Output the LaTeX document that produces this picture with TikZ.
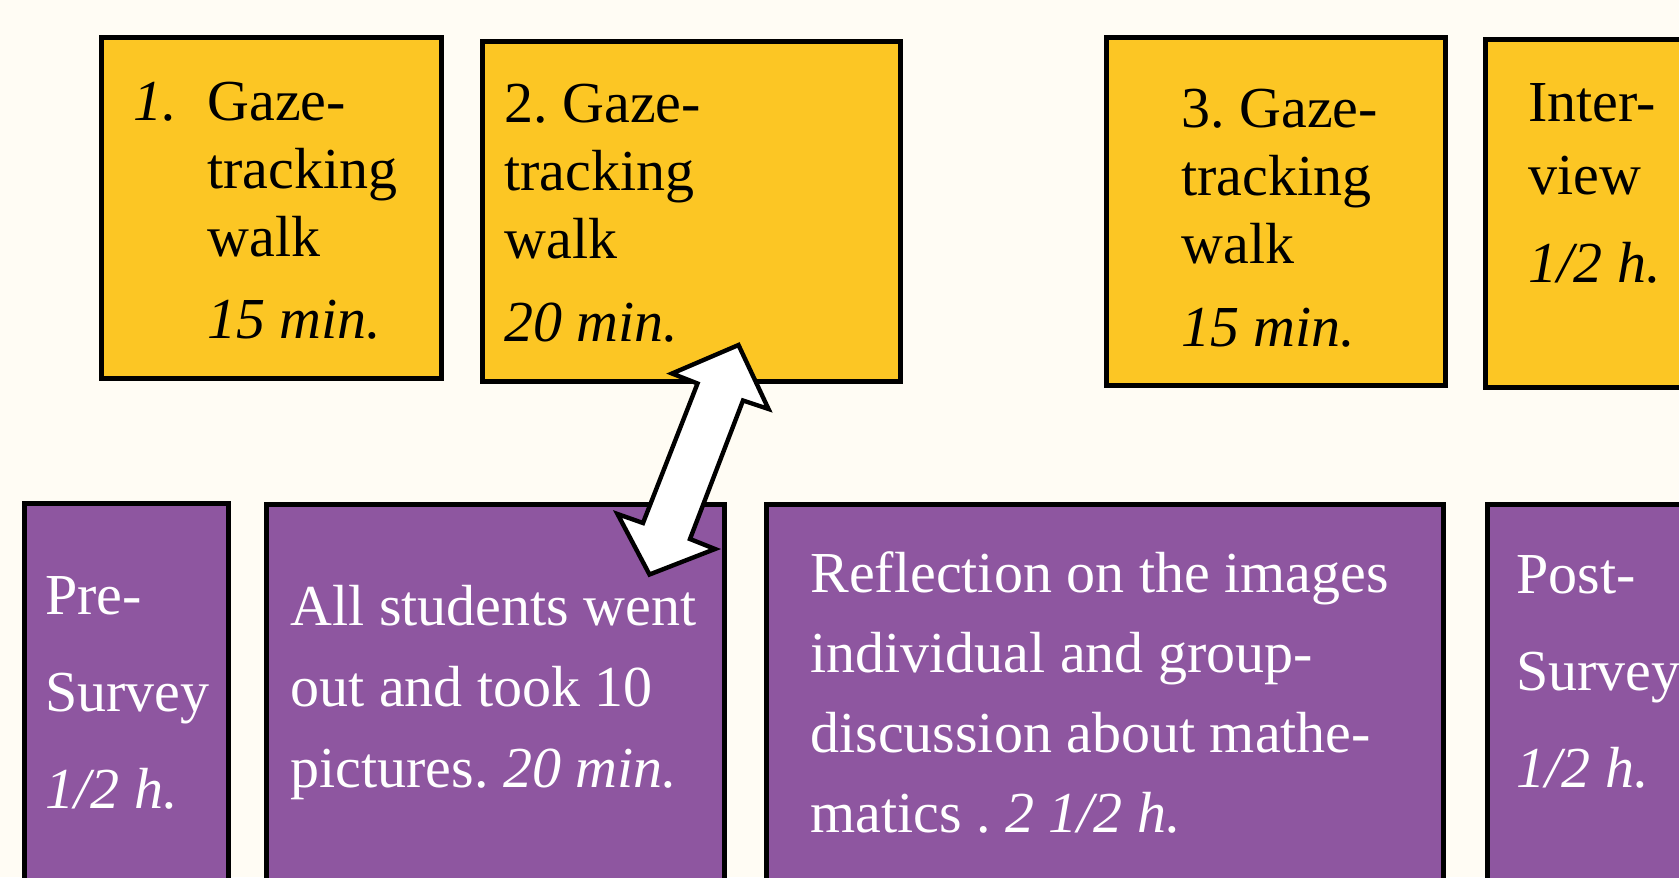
\documentclass[tikz,border=0pt]{standalone}
\usepackage{fontspec}
\setmainfont{Liberation Serif}
\frenchspacing
\usetikzlibrary{fit,positioning}
\definecolor{walkyellow}{RGB}{252,198,36}
\definecolor{classpurple}{RGB}{142,86,160}
\definecolor{paper}{RGB}{255,252,244}
\tikzset{
  yellowbox/.style={draw=black, line width=2.5pt, fill=walkyellow, inner sep=0pt},
  purplebox/.style={draw=black, line width=2.5pt, fill=classpurple, inner sep=0pt},
  boxtext/.style={anchor=base west, inner sep=0pt, font=\fontsize{29}{#1}\selectfont},
  whitetext/.style={boxtext=#1, text=white}
}
\begin{document}
\begin{tikzpicture}[x=0.5pt,y=-0.5pt]
\fill[paper] (0,0) rectangle (1679,877);
\useasboundingbox (0,0) rectangle (1679,877);
\clip (0,0) rectangle (1679,877);
% corners of the walk boxes (top row)
\coordinate (B1a) at (101,37.5);  \coordinate (B1b) at (441,378.5);
\coordinate (B2a) at (482,42);    \coordinate (B2b) at (900,381.5);
\coordinate (B3a) at (1106,38);   \coordinate (B3b) at (1445,385);
\coordinate (B4a) at (1485,40);   \coordinate (B4b) at (1720,387);
% corners of the class boxes (bottom row)
\coordinate (P1a) at (24,503.5);  \coordinate (P1b) at (228,920);
\coordinate (P2a) at (266,504);   \coordinate (P2b) at (724.5,920);
\coordinate (P3a) at (766,504);   \coordinate (P3b) at (1443,920);
\coordinate (P4a) at (1487,504);  \coordinate (P4b) at (1720,920);
\node[yellowbox, fit=(B1a)(B1b)] (B1) {};
\node[yellowbox, fit=(B2a)(B2b)] (B2) {};
\node[yellowbox, fit=(B3a)(B3b)] (B3) {};
\node[yellowbox, fit=(B4a)(B4b)] (B4) {};
\node[purplebox, fit=(P1a)(P1b)] (P1) {};
\node[purplebox, fit=(P2a)(P2b)] (P2) {};
\node[purplebox, fit=(P3a)(P3b)] (P3) {};
\node[purplebox, fit=(P4a)(P4b)] (P4) {};
% texts
\node[boxtext=34pt] (n1) at (133,121) {\textit{1.}};
\node[boxtext=34pt] (t1) at (207,121) {\parbox[t]{300pt}{Gaze-\\tracking\\walk\\[6.5pt]\textit{15 min.}}};
\node[boxtext=34pt] (t2) at (504,123) {\parbox[t]{300pt}{2. Gaze-\\tracking\\walk\\[7.5pt]\textit{20 min.}}};
\node[boxtext=34pt] (t3) at (1181,128) {\parbox[t]{300pt}{3. Gaze-\\tracking\\walk\\[7.5pt]\textit{15 min.}}};
\node[boxtext=34pt] (t4) at (1528,122) {\parbox[t]{300pt}{Inter-\\[2.5pt]view\\[10pt]\textit{1/2 h.}}};
\node[whitetext=48.5pt] (s1) at (45,614) {\parbox[t]{300pt}{Pre-\\Survey\\\textit{1/2 h.}}};
\node[whitetext=40.5pt] (s2) at (290,625) {\parbox[t]{300pt}{All students went\\out and took 10\\pictures. \textit{20 min.}}};
\node[whitetext=40pt] (s3) at (810,592) {\parbox[t]{400pt}{Reflection on the images\\individual and group-\\discussion about mathe-\\matics . \textit{2 1/2 h.}}};
\node[whitetext=48.5pt] (s4) at (1516,593) {\parbox[t]{300pt}{Post-\\Survey\\\textit{1/2 h.}}};
% double arrow between walk 2 and the photo task
\coordinate (AT) at (738.5,345);
\coordinate (ATR) at (768.5,409);
\coordinate (ATRi) at (743,400.5);
\coordinate (ABRi) at (690,539);
\coordinate (ABR) at (715,549);
\coordinate (AB) at (649.5,574.5);
\coordinate (ABL) at (617.5,514);
\coordinate (ABLi) at (643,523);
\coordinate (ATLi) at (697.5,383.5);
\coordinate (ATL) at (672,373.5);
\draw[line width=2.2pt, fill=white, line join=miter] (AT)--(ATR)--(ATRi)--(ABRi)--(ABR)--(AB)--(ABL)--(ABLi)--(ATLi)--(ATL)--cycle;
\end{tikzpicture}
\end{document}
